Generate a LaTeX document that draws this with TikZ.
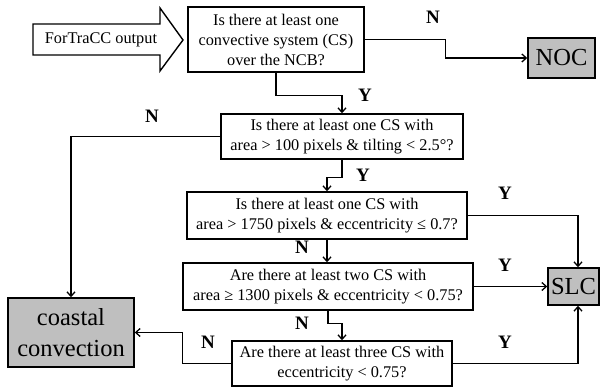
\documentclass[tikz,border=0pt]{standalone}
\usepackage{fontspec}
\setmainfont{Liberation Serif}
\usetikzlibrary{arrows.meta}
\begin{document}
\begin{tikzpicture}[x=1pt,y=-1pt,
  box/.style={draw=black,line width=1.4pt,fill=white,align=center,inner sep=0pt,
    font=\fontsize{16.3}{20}\selectfont},
  endbox/.style={draw=black,line width=1.4pt,fill=black!25,align=center,inner sep=0pt,
    font=\fontsize{24.5}{29}\selectfont},
  conn/.style={line width=1.3pt,-{Straight Barb[length=4.5pt,width=8pt]}},
  lab/.style={font=\fontsize{19}{20}\selectfont\bfseries,inner sep=0pt}]
\useasboundingbox (0,0) rectangle (603,387);
% fat input arrow
\draw[line width=1.4pt,line join=miter,fill=white]
  (33,24) -- (160,24) -- (160,8) -- (183,40) -- (160,71) -- (160,55) -- (33,55) -- cycle;
\node[font=\fontsize{16.3}{20}\selectfont,inner sep=0pt] (in) at (101,40) {ForTraCC output};
% boxes
\node[box,minimum width=176,minimum height=65] (b1) at (276,39.5)
  {Is there at least one\\convective system (CS)\\over the NCB?};
\node[endbox,minimum width=67,minimum height=40] (noc) at (561.5,58) {NOC};
\node[box,minimum width=242,minimum height=45] (b2) at (342,136.5)
  {Is there at least one CS with\\area > 100 pixels \& tilting < 2.5°?};
\node[box,minimum width=280,minimum height=47] (b3) at (327,215.5)
  {Is there at least one CS with\\area > 1750 pixels \& eccentricity ≤ 0.7?};
\node[box,minimum width=290,minimum height=47] (b4) at (328,286.5)
  {Are there at least two CS with\\area ≥ 1300 pixels \& eccentricity < 0.75?};
\node[box,minimum width=220,minimum height=45] (b5) at (342,363.5)
  {Are there at least three CS with\\eccentricity < 0.75?};
\node[endbox,minimum width=51,minimum height=37] (slc) at (573.5,286.5) {SLC};
\node[endbox,minimum width=126,minimum height=69,font=\fontsize{24.5}{31}\selectfont] (cc) at (71,332.5)
  {coastal\\convection};
% connectors
\draw[conn] (b1.east) -- ++(81,0) |- (noc.west);
\draw[conn] (b1.south) -- ++(0,23) -| (b2.north);
\draw[conn] (b2.west) -| (cc.north);
\draw[conn] (b2.south) -- ++(0,18) -| (b3.north);
\draw[conn] (b3.east) -| ([xshift=4.5pt]slc.north);
\draw[conn] (b3.south) -- (b3.south |- b4.north);
\draw[conn] (b4.east) -- (slc.west);
\draw[conn] (b4.south) -- ++(0,13) -| (b5.north);
\draw[conn] (b5.west) -- ++(-49,0) |- (cc.east);
\draw[conn] (b5.east) -| ([xshift=4.5pt]slc.south);
% labels
\node[lab] (l1) at (433,17) {N};
\node[lab] (l2) at (365,95) {Y};
\node[lab] (l3) at (152,116) {N};
\node[lab] (l4) at (363,175) {Y};
\node[lab] (l5) at (505,193) {Y};
\node[lab] (l6) at (302,247) {N};
\node[lab] (l7) at (505,265) {Y};
\node[lab] (l8) at (302,323) {N};
\node[lab] (l9) at (208,342) {N};
\node[lab] (l10) at (505,342) {Y};
\end{tikzpicture}
\end{document}
